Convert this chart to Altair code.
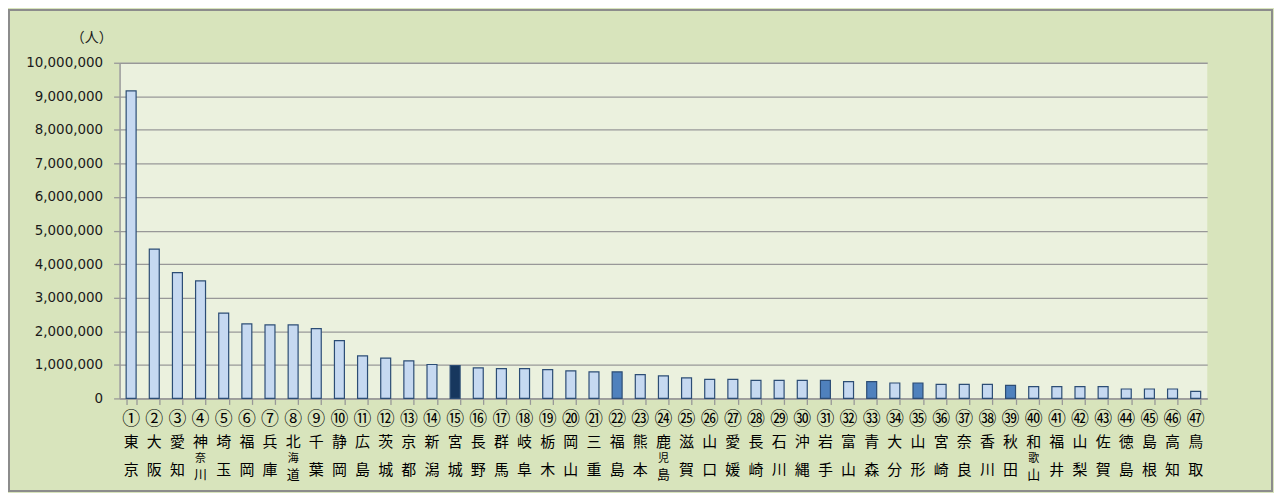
import altair as alt
import pandas as pd

prefs = ["東京", "大阪", "愛知", "神奈川", "埼玉", "福岡", "兵庫", "北海道", "千葉", "静岡",
         "広島", "茨城", "京都", "新潟", "宮城", "長野", "群馬", "岐阜", "栃木", "岡山",
         "三重", "福島", "熊本", "鹿児島", "滋賀", "山口", "愛媛", "長崎", "石川", "沖縄",
         "岩手", "富山", "青森", "大分", "山形", "宮崎", "奈良", "香川", "秋田", "和歌山",
         "福井", "山梨", "佐賀", "徳島", "島根", "高知", "鳥取"]
ranks = ["①", "②", "③", "④", "⑤", "⑥", "⑦", "⑧", "⑨", "⑩",
         "⑪", "⑫", "⑬", "⑭", "⑮", "⑯", "⑰", "⑱", "⑲", "⑳",
         "㉑", "㉒", "㉓", "㉔", "㉕", "㉖", "㉗", "㉘", "㉙", "㉚",
         "㉛", "㉜", "㉝", "㉞", "㉟", "㊱", "㊲", "㊳", "㊴", "㊵",
         "㊶", "㊷", "㊸", "㊹", "㊺", "㊻", "㊼"]
values = [9160000, 4450000, 3750000, 3500000, 2540000, 2220000, 2190000, 2190000, 2080000, 1720000,
          1270000, 1200000, 1120000, 1010000, 980000, 910000, 890000, 890000, 860000, 820000,
          790000, 790000, 710000, 670000, 610000, 570000, 570000, 540000, 540000, 540000,
          540000, 500000, 500000, 460000, 460000, 420000, 420000, 420000, 390000, 350000,
          350000, 350000, 350000, 280000, 280000, 280000, 210000]
groups = ["other"] * 47
for p in ["福島", "岩手", "青森", "山形", "秋田"]:
    groups[prefs.index(p)] = "tohoku"
groups[prefs.index("宮城")] = "miyagi"

y_ticks = [i * 1000000 for i in range(11)]
unit_label = "（人）"

df = pd.DataFrame({
    "pref": prefs,
    "rank": ranks,
    "value": values,
    "grp": groups,
})
df["c1"] = df["pref"].str[0]
df["c2"] = df["pref"].str[1]
df["clast"] = df["pref"].str[-1]
df["n"] = df["pref"].str.len()

PLOT_W, PLOT_H = 1092, 337
PAD = {"left": 112, "top": 54, "right": 67, "bottom": 94}
JP = "Noto Sans CJK JP"
GRID = "#989898"

xenc = alt.X("pref:N", sort=prefs,
             scale=alt.Scale(paddingInner=0.57, paddingOuter=0.285),
             axis=alt.Axis(labels=False, title=None, ticks=True, tickBand="extent",
                           tickSize=6, tickColor=GRID, tickWidth=1.3,
                           domainColor=GRID, domainWidth=1.5, grid=False))

base = alt.Chart(df).encode(x=xenc)

bars = base.mark_bar(stroke="#2C4D75", strokeWidth=1.2).encode(
    y=alt.Y("value:Q", scale=alt.Scale(domain=[0, 10000000], nice=False),
            axis=alt.Axis(values=y_ticks, format=",.0f", title=None, grid=True,
                          gridColor=GRID, gridWidth=1.3, tickColor=GRID, tickSize=6,
                          tickWidth=1.3, domainColor=GRID, domainWidth=1.5,
                          labelPadding=11, labelFont="DejaVu Sans", labelFontSize=13.5,
                          labelColor="#1a1a1a")),
    fill=alt.Color("grp:N", scale=alt.Scale(domain=["other", "tohoku", "miyagi"],
                                            range=["#C6D9F1", "#4F81BD", "#17375E"]),
                   legend=None),
)

txt = dict(font=JP, fontSize=15, color="#000000", baseline="middle", align="center")

nums = base.mark_text(**{**txt, "fontSize": 18}).encode(text="rank:N", y=alt.value(359))
first = base.mark_text(**txt).encode(text="c1:N", y=alt.value(381))
last2 = base.transform_filter("datum.n == 2").mark_text(**txt).encode(
    text="clast:N", y=alt.value(409))
mid3 = base.transform_filter("datum.n == 3").mark_text(**{**txt, "fontSize": 11}).encode(
    text="c2:N", y=alt.value(398))
last3 = base.transform_filter("datum.n == 3").mark_text(**{**txt, "fontSize": 13}).encode(
    text="clast:N", y=alt.value(414))

unit = alt.Chart(pd.DataFrame({"t": [unit_label]})).mark_text(
    font=JP, fontSize=14, color="#1a1a1a", baseline="middle", align="center"
).encode(text="t:N", x=alt.value(-28), y=alt.value(-25))

frame = alt.Chart(pd.DataFrame({"t": [unit_label]})).mark_rect(
    fill="transparent", stroke="#8C8C8C", strokeWidth=2
).encode(x=alt.value(-111), x2=alt.value(1157), y=alt.value(-53), y2=alt.value(430))

chart = alt.layer(bars, nums, first, last2, mid3, last3, unit, frame).properties(
    width=PLOT_W, height=PLOT_H,
    autosize=alt.AutoSizeParams(type="none"),
    padding=PAD,
    background="#D8E4BC",
).configure_view(fill="#EBF1DE", strokeWidth=0)

chart.save("out.html", embed_options={"renderer": "svg", "actions": False})
